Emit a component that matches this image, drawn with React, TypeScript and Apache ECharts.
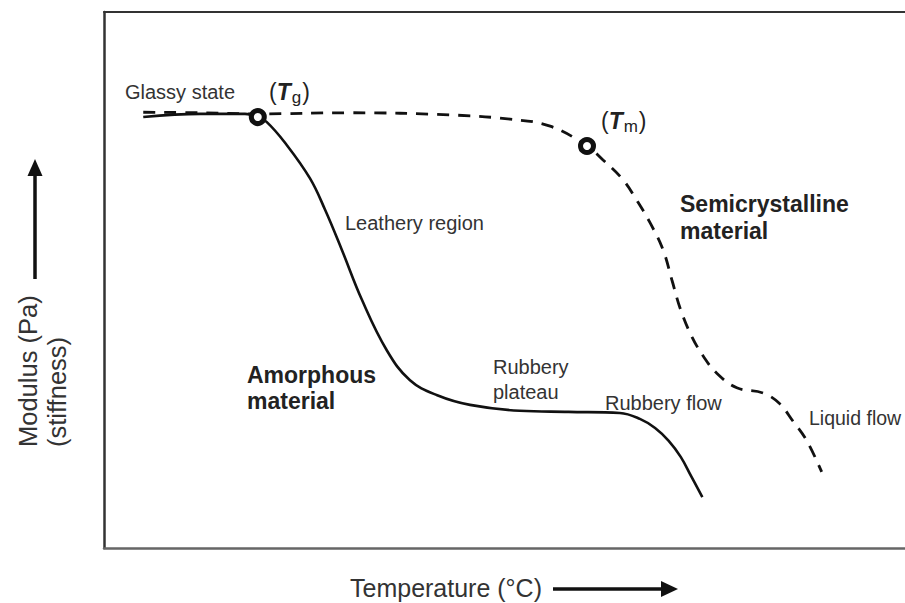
import React, { useEffect, useRef } from "react";
import * as echarts from "echarts";

// Temperature (relative, 0-100) and modulus (relative, 0-100)
const amorphousTemp = [4.9, 12.0, 17.6, 19.2, 20.3, 22.6, 25.7, 27.6, 29.7, 32.2, 35.3, 38.2, 41.6, 45.7, 51.9, 58.0, 64.4, 66.9, 68.8, 70.5, 72.0, 73.3, 74.7];
const amorphousModulus = [80.4, 81.0, 81.0, 80.4, 79.5, 75.6, 69.0, 63.1, 55.6, 46.3, 36.9, 31.3, 28.5, 26.7, 25.6, 25.4, 25.2, 24.1, 22.4, 20.0, 17.0, 13.4, 9.5];

const semiTemp = [4.9, 12.0, 19.2, 30.7, 43.2, 50.7, 55.7, 60.3, 62.3, 64.8, 66.5, 68.2, 69.8, 70.9, 72.0, 73.4, 74.9, 76.5, 79.0, 82.3, 84.3, 86.0, 87.7, 89.6];
const semiModulus = [81.3, 81.2, 81.0, 81.2, 80.8, 80.0, 78.7, 75.0, 72.4, 68.7, 64.9, 60.6, 55.6, 50.0, 44.4, 39.4, 35.6, 32.6, 29.9, 28.9, 27.0, 23.7, 20.1, 14.2];

// Transition points: Tg and Tm
const transitionNames = ["Tg", "Tm"];
const transitionTemp = [19.2, 60.3];
const transitionModulus = [80.4, 75.0];

const FONT = "'Liberation Sans', Arial, Helvetica, sans-serif";

export default function App() {
  const ref = useRef<HTMLDivElement>(null);

  useEffect(() => {
    if (!ref.current) return;
    const chart = echarts.init(ref.current, undefined, { renderer: "svg" });

    const solidData = amorphousTemp.map((t, i) => [t, amorphousModulus[i]]);
    const dashedData = semiTemp.map((t, i) => [t, semiModulus[i]]);
    const pointData = transitionTemp.map((t, i) => ({ name: transitionNames[i], value: [t, transitionModulus[i]] }));

    const label = (text: string, x: number, y: number, size: number, bold = false) => ({
      type: "text",
      x,
      y,
      silent: true,
      style: {
        text,
        fill: bold ? "#222" : "#333",
        font: `${bold ? "bold " : ""}${size}px ${FONT}`,
        align: "left",
        verticalAlign: "middle",
      },
    });

    const subLabel = (main: string, sub: string, x: number, y: number) => ({
      type: "text",
      x,
      y,
      silent: true,
      style: {
        text: `{p|(}{it|${main}}{sub|${sub}}{p|)}`,
        align: "left",
        verticalAlign: "middle",
        rich: {
          p: { fontSize: 23, fontFamily: FONT, fill: "#222", color: "#222" },
          it: { fontSize: 23, fontFamily: FONT, fontStyle: "italic", fontWeight: "bold", fill: "#222", color: "#222" },
          sub: { fontSize: 17, fontFamily: FONT, fill: "#222", color: "#222", padding: [10, 1, 0, 1], verticalAlign: "bottom" },
        },
      },
    });

    chart.setOption({
      animation: false,
      backgroundColor: "#ffffff",
      grid: { left: 104, right: 0, top: 12, bottom: 55, containLabel: false },
      xAxis: [
        {
          type: "value",
          min: 0,
          max: 100,
          axisLine: { show: true, onZero: false, lineStyle: { color: "#666", width: 2.5 } },
          axisTick: { show: false },
          axisLabel: { show: false },
          splitLine: { show: false },
        },
        {
          type: "value",
          position: "top",
          min: 0,
          max: 100,
          axisLine: { show: true, onZero: false, lineStyle: { color: "#333", width: 2 } },
          axisTick: { show: false },
          axisLabel: { show: false },
          splitLine: { show: false },
        },
      ],
      yAxis: {
        type: "value",
        min: 0,
        max: 100,
        axisLine: { show: true, onZero: false, lineStyle: { color: "#333", width: 2.5 } },
        axisTick: { show: false },
        axisLabel: { show: false },
        splitLine: { show: false },
      },
      series: [
        {
          name: "Amorphous material",
          type: "line",
          data: solidData,
          smooth: 0.4,
          symbol: "none",
          lineStyle: { color: "#111", width: 2.6 },
          z: 3,
        },
        {
          name: "Semicrystalline material",
          type: "line",
          data: dashedData,
          smooth: 0.4,
          symbol: "none",
          lineStyle: { color: "#111", width: 2.8, type: [12, 9] },
          z: 3,
        },
        {
          name: "Transitions",
          type: "scatter",
          data: pointData,
          symbol: "circle",
          symbolSize: 13,
          itemStyle: { color: "#fff", borderColor: "#111", borderWidth: 5, opacity: 1 },
          z: 5,
        },
      ],
      graphic: [
        label("Glassy state", 125, 92, 20),
        subLabel("T", "g", 269, 92),
        subLabel("T", "m", 601, 121),
        label("Leathery region", 345, 223, 20),
        label("Semicrystalline", 680, 204, 23, true),
        label("material", 680, 231, 23, true),
        label("Amorphous", 247, 375, 23, true),
        label("material", 247, 401, 23, true),
        label("Rubbery", 493, 367, 20),
        label("plateau", 493, 392, 20),
        label("Rubbery flow", 605, 403, 20),
        label("Liquid flow", 809, 418, 19.5),
        // x axis title + arrow
        label("Temperature (°C)", 350, 588, 25),
        {
          type: "line",
          silent: true,
          shape: { x1: 553, y1: 589, x2: 664, y2: 589 },
          style: { stroke: "#111", lineWidth: 3.5 },
        },
        {
          type: "polygon",
          silent: true,
          shape: { points: [[678, 589], [661, 581], [661, 597]] },
          style: { fill: "#111" },
        },
        // y axis titles + arrow
        {
          type: "text",
          x: 28,
          y: 447,
          rotation: Math.PI / 2,
          silent: true,
          style: { text: "Modulus (Pa)", fill: "#333", font: `25.5px ${FONT}`, align: "left", verticalAlign: "middle" },
        },
        {
          type: "text",
          x: 57,
          y: 447,
          rotation: Math.PI / 2,
          silent: true,
          style: { text: "(stiffness)", fill: "#333", font: `25.5px ${FONT}`, align: "left", verticalAlign: "middle" },
        },
        {
          type: "line",
          silent: true,
          shape: { x1: 35, y1: 279, x2: 35, y2: 172 },
          style: { stroke: "#111", lineWidth: 3.5 },
        },
        {
          type: "polygon",
          silent: true,
          shape: { points: [[35, 159], [27.5, 176], [42.5, 176]] },
          style: { fill: "#111" },
        },
      ],
    });

    return () => chart.dispose();
  }, []);

  return (
    <div
      ref={ref}
      style={{ position: "fixed", left: 0, top: 0, width: 905, height: 603, background: "#fff" }}
    />
  );
}
